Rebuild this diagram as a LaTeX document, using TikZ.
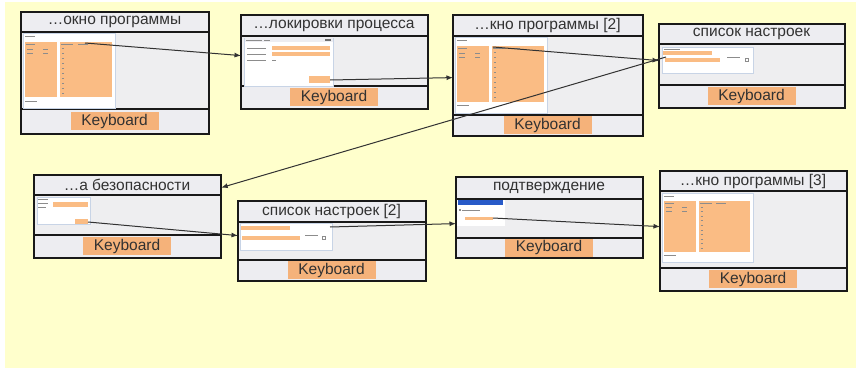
\documentclass[tikz,border=0pt]{standalone}
\usepackage{fontspec}
\setmainfont{Liberation Sans}
\usetikzlibrary{arrows.meta,calc}

\definecolor{paper}{RGB}{255,255,204}
\definecolor{band}{RGB}{237,237,241}
\definecolor{shotbg}{RGB}{238,238,240}
\definecolor{kbfill}{RGB}{245,178,122}
\definecolor{panefill}{RGB}{250,188,132}
\definecolor{ink}{RGB}{50,50,50}
\definecolor{frame}{RGB}{25,25,25}
\definecolor{winedge}{RGB}{200,212,230}
\definecolor{tinytext}{RGB}{140,140,140}
\definecolor{selblue}{RGB}{40,90,200}

\tikzset{
  panelbox/.style={draw=frame, line width=1.2pt, fill=band, inner sep=0pt, anchor=north west},
  divider/.style={draw=frame, line width=1.7pt},
  titletext/.style={font=\fontsize{15.5}{17}\selectfont, text=ink, inner sep=0pt},
  kblabel/.style={fill=kbfill, text=ink, font=\fontsize{15.5}{17}\selectfont,
    minimum width=88pt, minimum height=18pt, inner sep=0pt},
  flow/.style={draw=ink, line width=1pt, -{Latex[length=6.5pt,width=5pt]}},
  win/.style={fill=white, draw=winedge, line width=0.4pt},
  paneblock/.style={fill=panefill},
  tinyline/.style={draw=tinytext, line width=0.5pt},
}

% panel: name, x1, y1, x2, y2, title band bottom, keyboard band top, title
\newcommand\panel[8]{%
  \node[panelbox, minimum width={#4pt-#2pt}, minimum height={#5pt-#3pt}] (#1) at (#2,#3) {};
  \fill[shotbg] (#2,#6) rectangle (#4,#7);
  \draw[divider] (#2,#6) -- (#4,#6);
  \draw[divider] (#2,#7) -- (#4,#7);
  \draw[frame, line width=1.2pt] (#1.north west) rectangle (#1.south east);
  \node[titletext] (#1-title) at ({(#2+#4)/2},{(#3+#6)/2}) {#8};
  \node[kblabel] (#1-kb) at ({(#2+#4)/2},{(#7+#5)/2}) {Keyboard};
}

% miniature main program window: x, y, xscale, yscale
\newcommand\mainwin[4]{%
  \begin{scope}[shift={(#1,#2)}, xscale=#3, yscale=#4]
    \draw[win] (0,0) rectangle (92,75);
    \draw[tinyline] (2,3) -- (12,3);
    \fill[paneblock] (2,9) rectangle (34,64);
    \fill[paneblock] (37,9) rectangle (89,64);
    \draw[tinyline] (3,11) -- (12,11) (38,11) -- (50,11) (55,11) -- (65,11);
    \foreach \r in {16,20} {\draw[tinyline] (4,\r) -- (10,\r) (20,\r) -- (25,\r);}
    \foreach \r in {15,20,...,60} {\draw[tinyline] (39,\r) -- (41,\r);}
    \draw[tinyline] (2,68) -- (14,68);
  \end{scope}}

\begin{document}
\begin{tikzpicture}[x=1pt, y=-1pt]
  \useasboundingbox (0,0) rectangle (856,369);
  \fill[white] (0,0) rectangle (856,369);
  \fill[paper] (5,2) rectangle (856,368);

  \panel{b1}{21}{12}{208}{133}{32}{109}{…окно программы}
  \panel{b2}{241}{15}{427}{108}{36}{86}{…локировки процесса}
  \panel{b3}{453}{15}{642}{135}{36}{115}{…кно программы [2]}
  \panel{b4}{659}{24}{844}{107}{44}{85}{список настроек}
  \panel{b5}{34}{175}{220}{257}{195}{235}{…а безопасности}
  \panel{b6}{238}{201}{425}{280}{222}{260}{список настроек [2]}
  \panel{b7}{456}{177}{642}{257}{199}{238}{подтверждение}
  \panel{b8}{660}{171}{846}{290}{191}{268}{…кно программы [3]}

  % main windows
  \mainwin{23}{33}{1}{1}
  \mainwin{455}{37}{1}{1.01}
  \mainwin{662}{193}{0.99}{0.92}
  \coordinate (p1) at (85,43);
  \coordinate (p3) at (493,47);

  % process dialog
  \draw[win] (244,38) rectangle (333,86);
  \fill[band] (244.5,38.5) rectangle (332.5,42);
  \draw[tinyline] (246,40) -- (262,40) (264,40) -- (270,40);
  \fill[ink!70] (325,39) rectangle (331,41.5);
  \foreach \r in {48,54,60} {\draw[tinyline] (247,\r) -- (266,\r);}
  \fill[paneblock] (272,46) rectangle (330,50);
  \fill[paneblock] (272,52) rectangle (330,56);
  \draw[tinyline] (272,60) -- (276,60);
  \fill[paneblock] (309,76) rectangle (330,83);
  \coordinate (p2) at (330,80);

  % settings list
  \draw[win] (662,47) rectangle (753,73);
  \draw[tinyline] (664,49) -- (680,49);
  \fill[paneblock] (663,51) rectangle (712,55);
  \fill[paneblock] (665,58) rectangle (720,62);
  \draw[tinyline] (727,57) -- (740,57);
  \draw[tinyline] (745,58) rectangle (748,61);
  \coordinate (p4) at (666,57);

  % security dialog
  \draw[win] (37,197) rectangle (90,224);
  \draw[tinyline] (38,199) -- (48,199);
  \draw[tinyline] (38,203) -- (48,203) (38,207) -- (46,207);
  \fill[paneblock] (53,202) rectangle (88,207);
  \fill[paneblock] (75,219) rectangle (88,224);
  \coordinate (p5) at (88,222);

  % settings list [2]
  \draw[win] (240,223) rectangle (332,250);
  \fill[paneblock] (241,226) rectangle (290,230);
  \fill[paneblock] (242,236) rectangle (300,240);
  \draw[tinyline] (305,235) -- (318,235);
  \draw[tinyline] (322,236) rectangle (325,239);
  \coordinate (p6) at (330,227);

  % confirmation
  \fill[white] (457,200) rectangle (505,226);
  \fill[selblue] (458,200) rectangle (503,205);
  \fill[tinytext] (459,209) rectangle (461,211);
  \draw[tinyline] (462,210) -- (480,210);
  \fill[paneblock] (465,217) rectangle (493,220);
  \coordinate (p7) at (493,218);

  % transitions
  \draw[flow] (p1) -- ([yshift=6.5pt]b2.west);
  \draw[flow] (p2) -- ([yshift=-2pt]b3.west);
  \draw[flow] (p3) -- ([yshift=5.5pt]b4.west);
  \draw[flow] (p4) -- ([yshift=29pt]b5.east);
  \draw[flow] (p5) -- ([yshift=5.5pt]b6.west);
  \draw[flow] (p6) -- ([yshift=-6pt]b7.west);
  \draw[flow] (p7) -- ([yshift=4.5pt]b8.west);
\end{tikzpicture}
\end{document}
